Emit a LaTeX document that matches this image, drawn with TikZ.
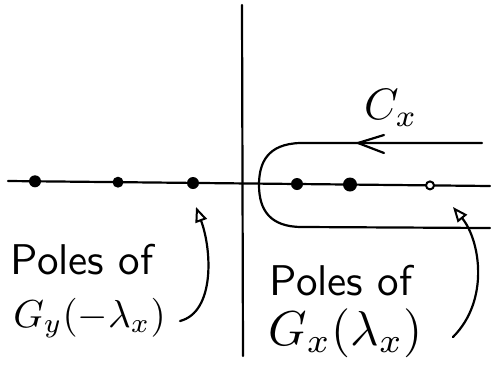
\documentclass[tikz,border=0pt]{standalone}
\usepackage{amsmath}
\usetikzlibrary{arrows.meta,positioning}
\begin{document}
\begin{tikzpicture}[x=1pt,y=-1pt,line width=2.2pt,line cap=round,line join=round,
  >={Triangle[open,length=15pt,width=12pt,line width=2pt]}]
\tikzset{pole/.style={shape=circle,fill=black,inner sep=0pt,minimum size=#1},
  pole/.default=12pt,
  lbl/.style={anchor=base west,inner sep=0pt,font=\sffamily,scale=#1},
  lbl/.default=4.3}
\useasboundingbox (0,0) rectangle (491,368);
% axes
\draw(8,181)--(490,186);
\draw(242,5)--(243,356);
% poles
\node[pole] (p1) at (35,181.3){};
\node[pole=11pt] (p2) at (118,182.2){};
\node[pole] (p3) at (193,183){};
\node[pole] (p4) at (297,184){};
\node[pole=14pt] (p5) at (350,184.5){};
\node[pole=8pt,fill=white,draw=black,line width=2pt] (p6) at (430,185.4){};
% contour C_x
\draw(482,143)--(300,143)..controls(268,144)and(259,162)..(259,185)
  ..controls(259,210)and(270,227)..(302,227)--(490,228);
\draw(384,135)--(358,143)--(384,153);
\node[inner sep=0pt,scale=4.4] (cx) at (391,108){$C_x$};
% labels
\node[lbl] (poly) at (6,274){Poles of};
\node[lbl=3.9] (gy) at (9,327){$G_y(-\lambda_x)$};
\node[lbl] (polx) at (265,295){Poles of};
\node[lbl=4.9] (gx) at (263,345){$G_x(\lambda_x)$};
\coordinate (ty) at (196,207);
\coordinate (tx) at (453,207);
\draw[->](180,321)..controls(215,312)and(212,250)..(ty);
\draw[->](453,337)..controls(490,300)and(480,240)..(tx);
\end{tikzpicture}
\end{document}
